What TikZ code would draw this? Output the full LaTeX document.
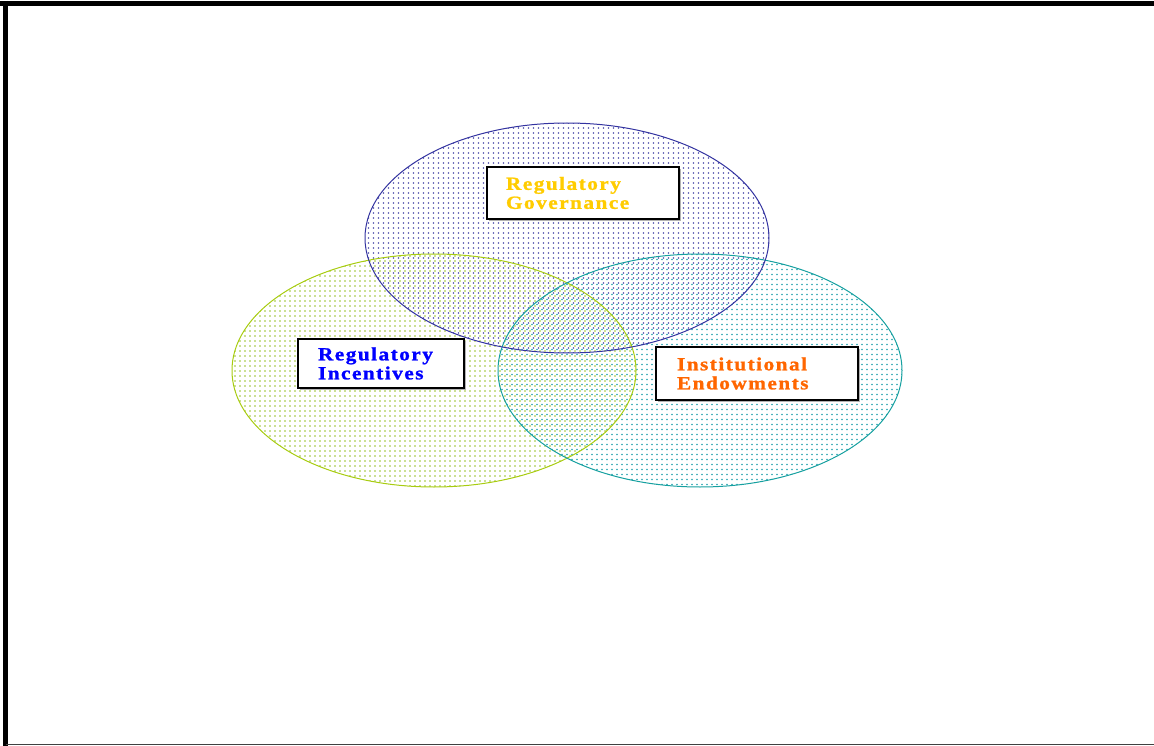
\documentclass[tikz,border=0pt]{standalone}
\usepackage{fontspec}
\newfontfamily\lbf[LetterSpace=8,FakeStretch=1.15,FakeBold=1.2]{Liberation Serif}
\usetikzlibrary{patterns.meta}
\definecolor{govline}{HTML}{3333A0}
\definecolor{govdot}{HTML}{5050AC}
\definecolor{incline}{HTML}{A8CC10}
\definecolor{incdot}{HTML}{98C028}
\definecolor{endline}{HTML}{16A0A0}
\definecolor{enddot}{HTML}{28A4B0}
\definecolor{govtext}{HTML}{FFCC00}
\definecolor{inctext}{HTML}{0000FF}
\definecolor{endtext}{HTML}{FF6600}
\tikzset{
  lbox/.style={draw=black, line width=1.6pt, fill=white, align=left,
    font=\lbf\bfseries\fontsize{18.5}{19}\selectfont, inner ysep=0pt,
    anchor=center},
}
\begin{document}
\begin{tikzpicture}[x=1pt,y=-1pt]
\useasboundingbox (0,0) rectangle (1154,746);
% fills
\fill[pattern={Dots[radius=0.95pt,distance=5pt]},pattern color=incdot] (434,370.5) ellipse [x radius=202,y radius=116.5];
\fill[pattern={Dots[radius=0.95pt,distance=5pt,xshift=2pt,yshift=1.5pt]},pattern color=enddot] (700,370.5) ellipse [x radius=202,y radius=116.5];
\fill[pattern={Dots[radius=0.95pt,distance=5pt,xshift=3.5pt,yshift=3pt]},pattern color=govdot] (567,238) ellipse [x radius=202,y radius=115];
% outlines
\draw[incline, line width=1pt] (434,370.5) ellipse [x radius=202,y radius=116.5];
\draw[endline, line width=1pt] (700,370.5) ellipse [x radius=202,y radius=116.5];
\draw[govline, line width=1pt] (567,238) ellipse [x radius=202,y radius=115];
% box shadows
\fill[gray!60] (489,169) rectangle (681,221);
\fill[gray!60] (300,341) rectangle (466,390);
\fill[gray!60] (658,349) rectangle (860,402);
% boxes
\node[lbox, text=govtext, text width=154pt, inner xsep=19pt, minimum height=52pt] (gov) at (583,193) {Regulatory\\Governance};
\node[lbox, text=inctext, text width=126pt, inner xsep=20pt, minimum height=49pt] (inc) at (381,363.5) {Regulatory\\Incentives};
\node[lbox, text=endtext, text width=160pt, inner xsep=21pt, minimum height=53pt] (endw) at (757,373.5) {Institutional\\Endowments};
% frame
\draw[black, line width=5pt] (0,3.5) -- (1154,3.5);
\draw[black, line width=5pt] (5.5,1) -- (5.5,746);
\draw[black!75, line width=1.5pt] (5.5,744.5) -- (1154,744.5);
\end{tikzpicture}
\end{document}
